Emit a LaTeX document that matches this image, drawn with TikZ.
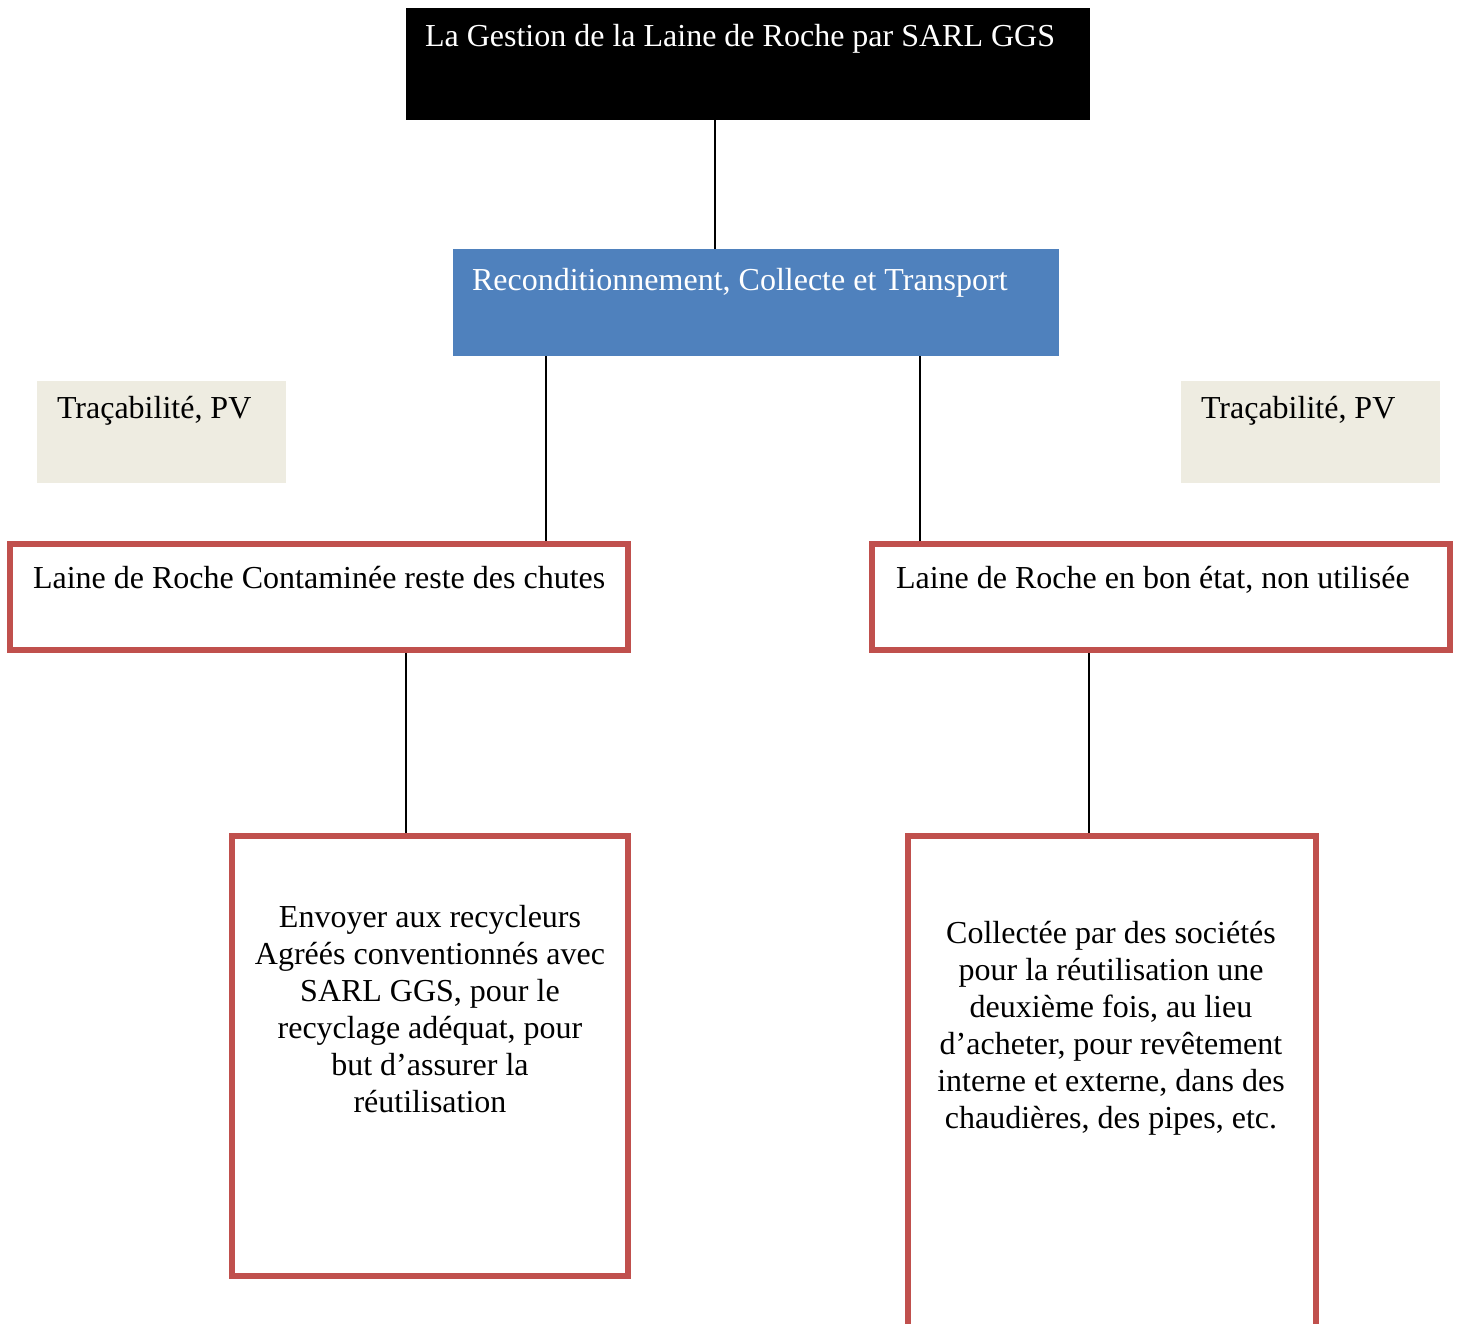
\documentclass[tikz,border=0pt]{standalone}
\usepackage{fontspec}
\setmainfont{Liberation Serif}
\definecolor{blueF}{HTML}{4F81BD}
\definecolor{redB}{HTML}{C0504D}
\definecolor{beigeF}{HTML}{EEECE1}
\begin{document}
\begin{tikzpicture}[x=1pt,y=-1pt,
  txt/.style={inner sep=0pt, outer sep=0pt, font=\fontsize{32}{37}\selectfont},
  blackbox/.style={fill=black, inner sep=0pt, outer sep=0pt},
  bluebox/.style={fill=blueF, inner sep=0pt, outer sep=0pt},
  beigebox/.style={fill=beigeF, inner sep=0pt, outer sep=0pt},
  redbox/.style={draw=redB, line width=6pt, fill=white, inner sep=0pt},
  conn/.style={draw=black, line width=1.8pt}]
\useasboundingbox (0,0) rectangle (1458,1324);
\clip (0,0) rectangle (1458,1324);
\fill[white] (0,0) rectangle (1458,1324);

% boxes
\node[blackbox, minimum width=684pt, minimum height=112pt] (top) at (748,64) {};
\node[bluebox, minimum width=606pt, minimum height=107pt] (blue) at (756,302.5) {};
\node[beigebox, minimum width=249pt, minimum height=102pt] (trL) at (161.5,432) {};
\node[beigebox, minimum width=259pt, minimum height=102pt] (trR) at (1310.5,432) {};
\node[redbox, minimum width=618pt, minimum height=106pt] (redL) at (319,597) {};
\node[redbox, minimum width=578pt, minimum height=106pt] (redR) at (1161,597) {};
\node[redbox, minimum width=396pt, minimum height=440pt] (botL) at (430,1056) {};
\node[redbox, minimum width=408pt, minimum height=564pt] (botR) at (1112,1118) {};

% texts
\node[txt, anchor=base west, text=white] (ttop) at (425,47) {La Gestion de la Laine de Roche par SARL GGS};
\node[txt, anchor=base west, text=white] (tblue) at (472,290) {Reconditionnement, Collecte et Transport};
\node[txt, anchor=base west] (ttrL) at (57,418) {Traçabilité, PV};
\node[txt, anchor=base west] (ttrR) at (1201,418) {Traçabilité, PV};
\node[txt, anchor=base west] (tredL) at (33,588) {Laine de Roche Contaminée reste des chutes};
\node[txt, anchor=base west] (tredR) at (896,588) {Laine de Roche en bon état, non utilisée};
\node[txt, anchor=north, align=center] (tbotL) at (430,905) {Envoyer aux recycleurs\\Agréés conventionnés avec\\SARL GGS, pour le\\recyclage adéquat, pour\\but d’assurer la\\réutilisation};
\node[txt, anchor=north, align=center] (tbotR) at (1111,921) {Collectée par des sociétés\\pour la réutilisation une\\deuxième fois, au lieu\\d’acheter, pour revêtement\\interne et externe, dans des\\chaudières, des pipes, etc.};

% connectors
\draw[conn] ([xshift=-33pt]top.south) -- ([xshift=-41pt]blue.north);
\draw[conn] ([xshift=-210pt]blue.south) -- ([xshift=227pt]redL.north);
\draw[conn] ([xshift=164pt]blue.south) -- ([xshift=-241pt]redR.north);
\draw[conn] ([xshift=87pt]redL.south) -- ([xshift=-24pt]botL.north);
\draw[conn] ([xshift=-72pt]redR.south) -- ([xshift=-23pt]botR.north);
\end{tikzpicture}
\end{document}
